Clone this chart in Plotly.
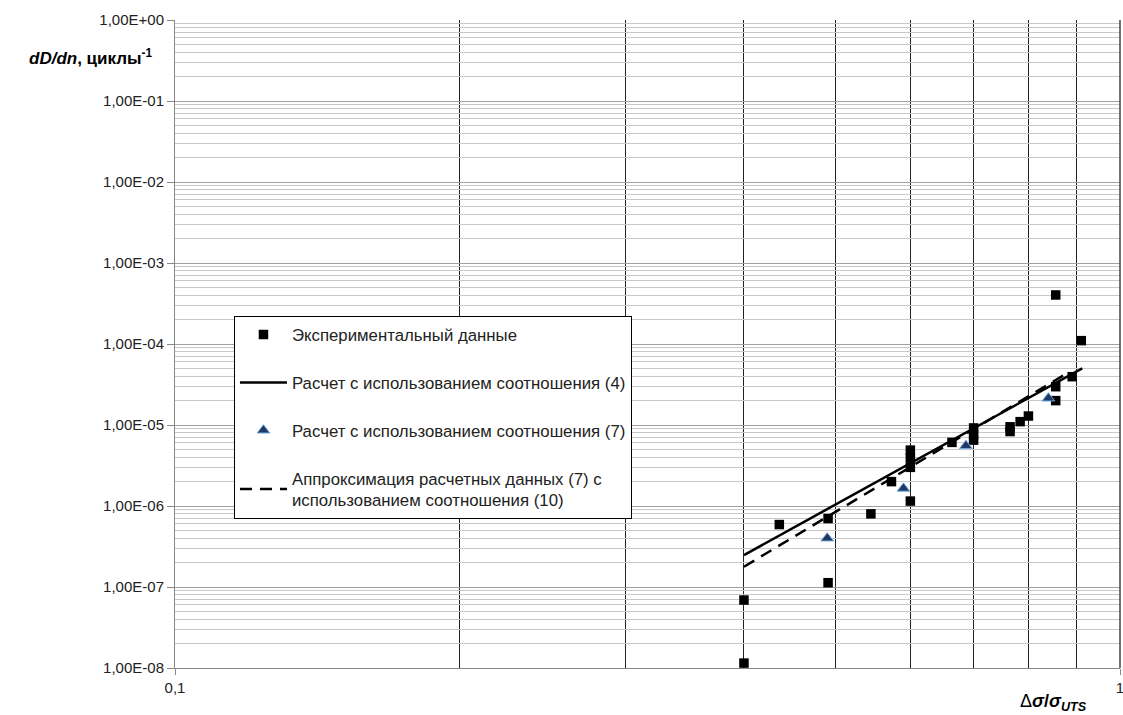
import plotly.graph_objects as go

# Experimental data (squares)
exp_x = [0.40, 0.40, 0.436, 0.491, 0.491, 0.545, 0.573, 0.60, 0.60, 0.60, 0.60,
         0.664, 0.70, 0.70, 0.70, 0.765, 0.765, 0.784, 0.80, 0.855, 0.855, 0.855, 0.89, 0.91]
exp_y = [1.15e-8, 6.9e-8, 5.9e-7, 7.0e-7, 1.13e-7, 8.0e-7, 2.0e-6, 1.15e-6, 3.0e-6, 3.9e-6, 4.9e-6,
         6.1e-6, 6.5e-6, 7.6e-6, 9.2e-6, 8.3e-6, 9.5e-6, 1.1e-5, 1.29e-5, 2.0e-5, 2.97e-5, 4.03e-4, 3.95e-5, 1.1e-4]

# Calculation with relation (4) (solid line)
calc4_x = [0.40, 0.912]
calc4_y = [2.48e-7, 5.0e-5]

# Calculation with relation (7) (triangles)
calc7_x = [0.49, 0.59, 0.687, 0.84]
calc7_y = [4.0e-7, 1.65e-6, 5.55e-6, 2.14e-5]

# Approximation of (7) with relation (10) (dashed line)
appr_x = [0.40, 0.88]
appr_y = [1.78e-7, 4.4e-5]

names = ["Экспериментальный данные",
         "Расчет с использованием соотношения (4)",
         "Расчет с использованием соотношения (7)",
         "Аппроксимация расчетных данных (7) с<br>использованием соотношения (10)"]

y_tickvals = [10.0 ** k for k in range(-8, 1)]
y_ticktext = ["1,00E-08", "1,00E-07", "1,00E-06", "1,00E-05", "1,00E-04",
              "1,00E-03", "1,00E-02", "1,00E-01", "1,00E+00"]
y_minor = [m * 10.0 ** k for k in range(-8, 0) for m in range(2, 10)]

x_tickvals = [0.1, 1]
x_ticktext = ["0,1", "1"]
x_minor = [0.2, 0.3, 0.4, 0.5, 0.6, 0.7, 0.8, 0.9]

fig = go.Figure()
fig.add_trace(go.Scatter(x=exp_x, y=exp_y, mode="markers", name=names[0], legendgroup="a",
                         marker=dict(symbol="square", size=9.5, color="black")))
fig.add_trace(go.Scatter(x=calc4_x, y=calc4_y, mode="lines", name=names[1], legendgroup="b",
                         line=dict(color="black", width=2.5)))
fig.add_trace(go.Scatter(x=calc7_x, y=calc7_y, mode="markers", name=names[2], legendgroup="c",
                         marker=dict(symbol="triangle-up", size=11, color="#1F3864",
                                     line=dict(color="#6FA8DC", width=1))))
fig.add_trace(go.Scatter(x=appr_x, y=appr_y, mode="lines", name=names[3], legendgroup="d",
                         line=dict(color="black", width=2.5, dash="12px,8px")))

fig.update_layout(
    width=1123, height=715,
    margin=dict(l=175, r=3, t=20, b=47, autoexpand=False),
    paper_bgcolor="white", plot_bgcolor="white",
    font=dict(family="Liberation Sans, Arial, sans-serif", size=15, color="#222"),
    showlegend=True,
    legend=dict(x=0.0624, y=0.543, xanchor="left", yanchor="top",
                bgcolor="white", bordercolor="black", borderwidth=1,
                tracegroupgap=23, font=dict(size=16.8, color="#222"),
                itemwidth=47),
    xaxis=dict(type="log", range=[-1, 0], tickvals=x_tickvals, ticktext=x_ticktext,
               automargin=False, ticklabeloverflow="allow",
               showgrid=False, zeroline=False, showline=True, linecolor="#888", linewidth=1,
               mirror=False, ticks="outside", ticklen=6, tickcolor="#888",
               tickfont=dict(size=15, color="#222"),
               minor=dict(tickvals=x_minor, showgrid=True, gridcolor="#222", gridwidth=1.2, ticks="")),
    yaxis=dict(type="log", range=[-8, 0], tickvals=y_tickvals, ticktext=y_ticktext,
               automargin=False,
               showgrid=True, gridcolor="#A0A0A0", gridwidth=1, zeroline=False,
               showline=True, linecolor="#888", linewidth=1,
               ticks="outside", ticklen=7, tickcolor="#888",
               tickfont=dict(size=15, color="#222"),
               minor=dict(tickvals=y_minor, showgrid=True, gridcolor="#C8C8C8", gridwidth=1, ticks="")),
    annotations=[
        dict(text="<b><i>dD/dn</i>, циклы<sup>-1</sup></b>", xref="paper", yref="paper",
             x=-0.021, y=0.943, xanchor="right", yanchor="middle", showarrow=False,
             font=dict(size=17, color="black")),
        dict(text="Δ<b><i>σ</i>/<i>σ</i><sub><i>UTS</i></sub></b>", xref="paper", yref="paper",
             x=0.967, y=-0.032, xanchor="right", yanchor="top", showarrow=False,
             font=dict(size=18, color="black")),
    ],
    shapes=[dict(type="line", xref="paper", yref="paper", x0=1, x1=1, y0=0, y1=1,
                 line=dict(color="#444", width=1.5))],
)

fig.write_html("out.html", config={"displayModeBar": False},
               post_script="document.body.style.margin='0';")
